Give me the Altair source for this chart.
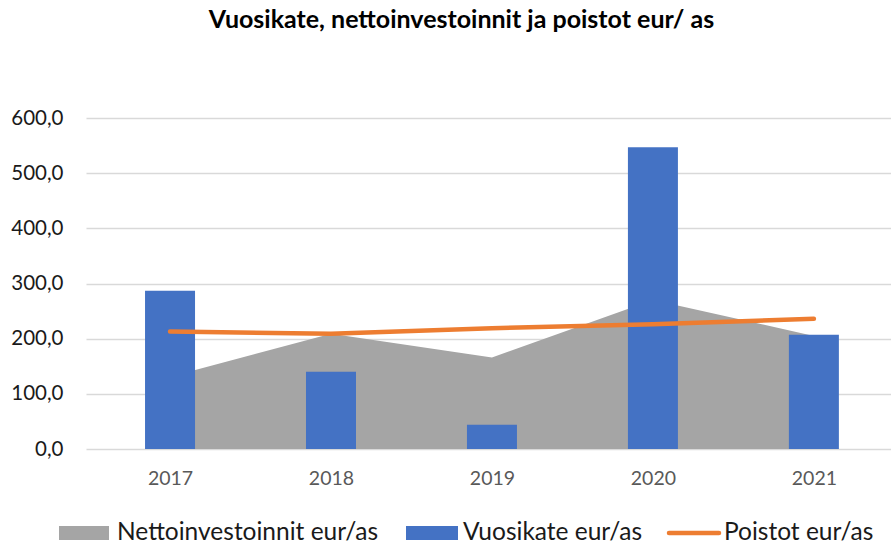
import altair as alt
import pandas as pd

years = [2017, 2018, 2019, 2020, 2021]
netto = [131, 209, 166, 270, 205]
vuosikate = [287, 140, 44, 547, 207]
poistot = [213, 209, 219, 226, 236]
series = ["Nettoinvestoinnit eur/as", "Vuosikate eur/as", "Poistot eur/as"]
y_ticks = [0, 100, 200, 300, 400, 500, 600]

df = pd.DataFrame({"year": years, "netto": netto, "vuosikate": vuosikate, "poistot": poistot})

FONT = "Lato"
W, H = 805, 331

xscale = alt.Scale(domain=[2016.509, 2021.448], nice=False, zero=False)
yscale = alt.Scale(domain=[0, 600], nice=False)

xaxis = alt.Axis(values=years, format="d", grid=False, domain=False, ticks=False,
                 labelFont=FONT, labelFontSize=19.5, labelColor="#595959", labelPadding=20, title=None)
yaxis = alt.Axis(values=y_ticks, grid=True, gridColor="#d9d9d9", gridWidth=1.3, domain=False, ticks=False,
                 labelFont=FONT, labelFontSize=20.5, labelColor="#1a1a1a", labelPadding=23, title=None,
                 labelExpr="replace(format(datum.value, '.1f'), '.', ',')")

base = alt.Chart(df)

area = base.mark_area(color="#A5A5A5", opacity=1).encode(
    x=alt.X("year:Q", scale=xscale, axis=xaxis),
    y=alt.Y("netto:Q", scale=yscale, axis=yaxis),
)
bars = base.mark_bar(color="#4472C4", size=50).encode(
    x=alt.X("year:Q", scale=xscale, axis=xaxis),
    y=alt.Y("vuosikate:Q", scale=yscale, axis=yaxis),
)
line = base.mark_line(color="#ED7D31", strokeWidth=4.5, strokeCap="round").encode(
    x=alt.X("year:Q", scale=xscale, axis=xaxis),
    y=alt.Y("poistot:Q", scale=yscale, axis=yaxis),
)

leg_df = pd.DataFrame({"name": series})
LY = 533 - 118
def leg_text(i, xpos):
    return alt.Chart(leg_df.iloc[[i]]).mark_text(
        font=FONT, fontSize=24.5, color="#1a1a1a", align="left", baseline="middle"
    ).encode(text="name:N", x=alt.value(xpos), y=alt.value(LY))

leg_gray = alt.Chart(leg_df.iloc[[0]]).mark_rect(color="#A5A5A5").encode(
    x=alt.value(59 - 86), x2=alt.value(109 - 86), y=alt.value(LY - 7), y2=alt.value(LY + 7))
leg_blue = alt.Chart(leg_df.iloc[[1]]).mark_rect(color="#4472C4").encode(
    x=alt.value(406 - 86), x2=alt.value(458 - 86), y=alt.value(LY - 7), y2=alt.value(LY + 7))
leg_line = alt.Chart(leg_df.iloc[[2]]).mark_rule(color="#ED7D31", strokeWidth=4.5, strokeCap="round").encode(
    x=alt.value(669 - 86), x2=alt.value(719 - 86), y=alt.value(LY))

chart = alt.layer(
    area, bars, line,
    leg_gray, leg_text(0, 117 - 86),
    leg_blue, leg_text(1, 463 - 86),
    leg_line, leg_text(2, 724 - 86),
).properties(
    width=W, height=H,
    background="white",
    title=alt.TitleParams("Vuosikate, nettoinvestoinnit ja poistot eur/ as", font=FONT, fontSize=25,
                          fontWeight="bold", color="#000000", anchor="middle", dx=-27, offset=75),
    autosize=alt.AutoSizeParams(type="none"),
    padding={"left": 86, "top": 118, "right": 0, "bottom": 95},
).configure_view(stroke=None)

chart.save("out.html", embed_options={"renderer": "svg", "actions": False})
